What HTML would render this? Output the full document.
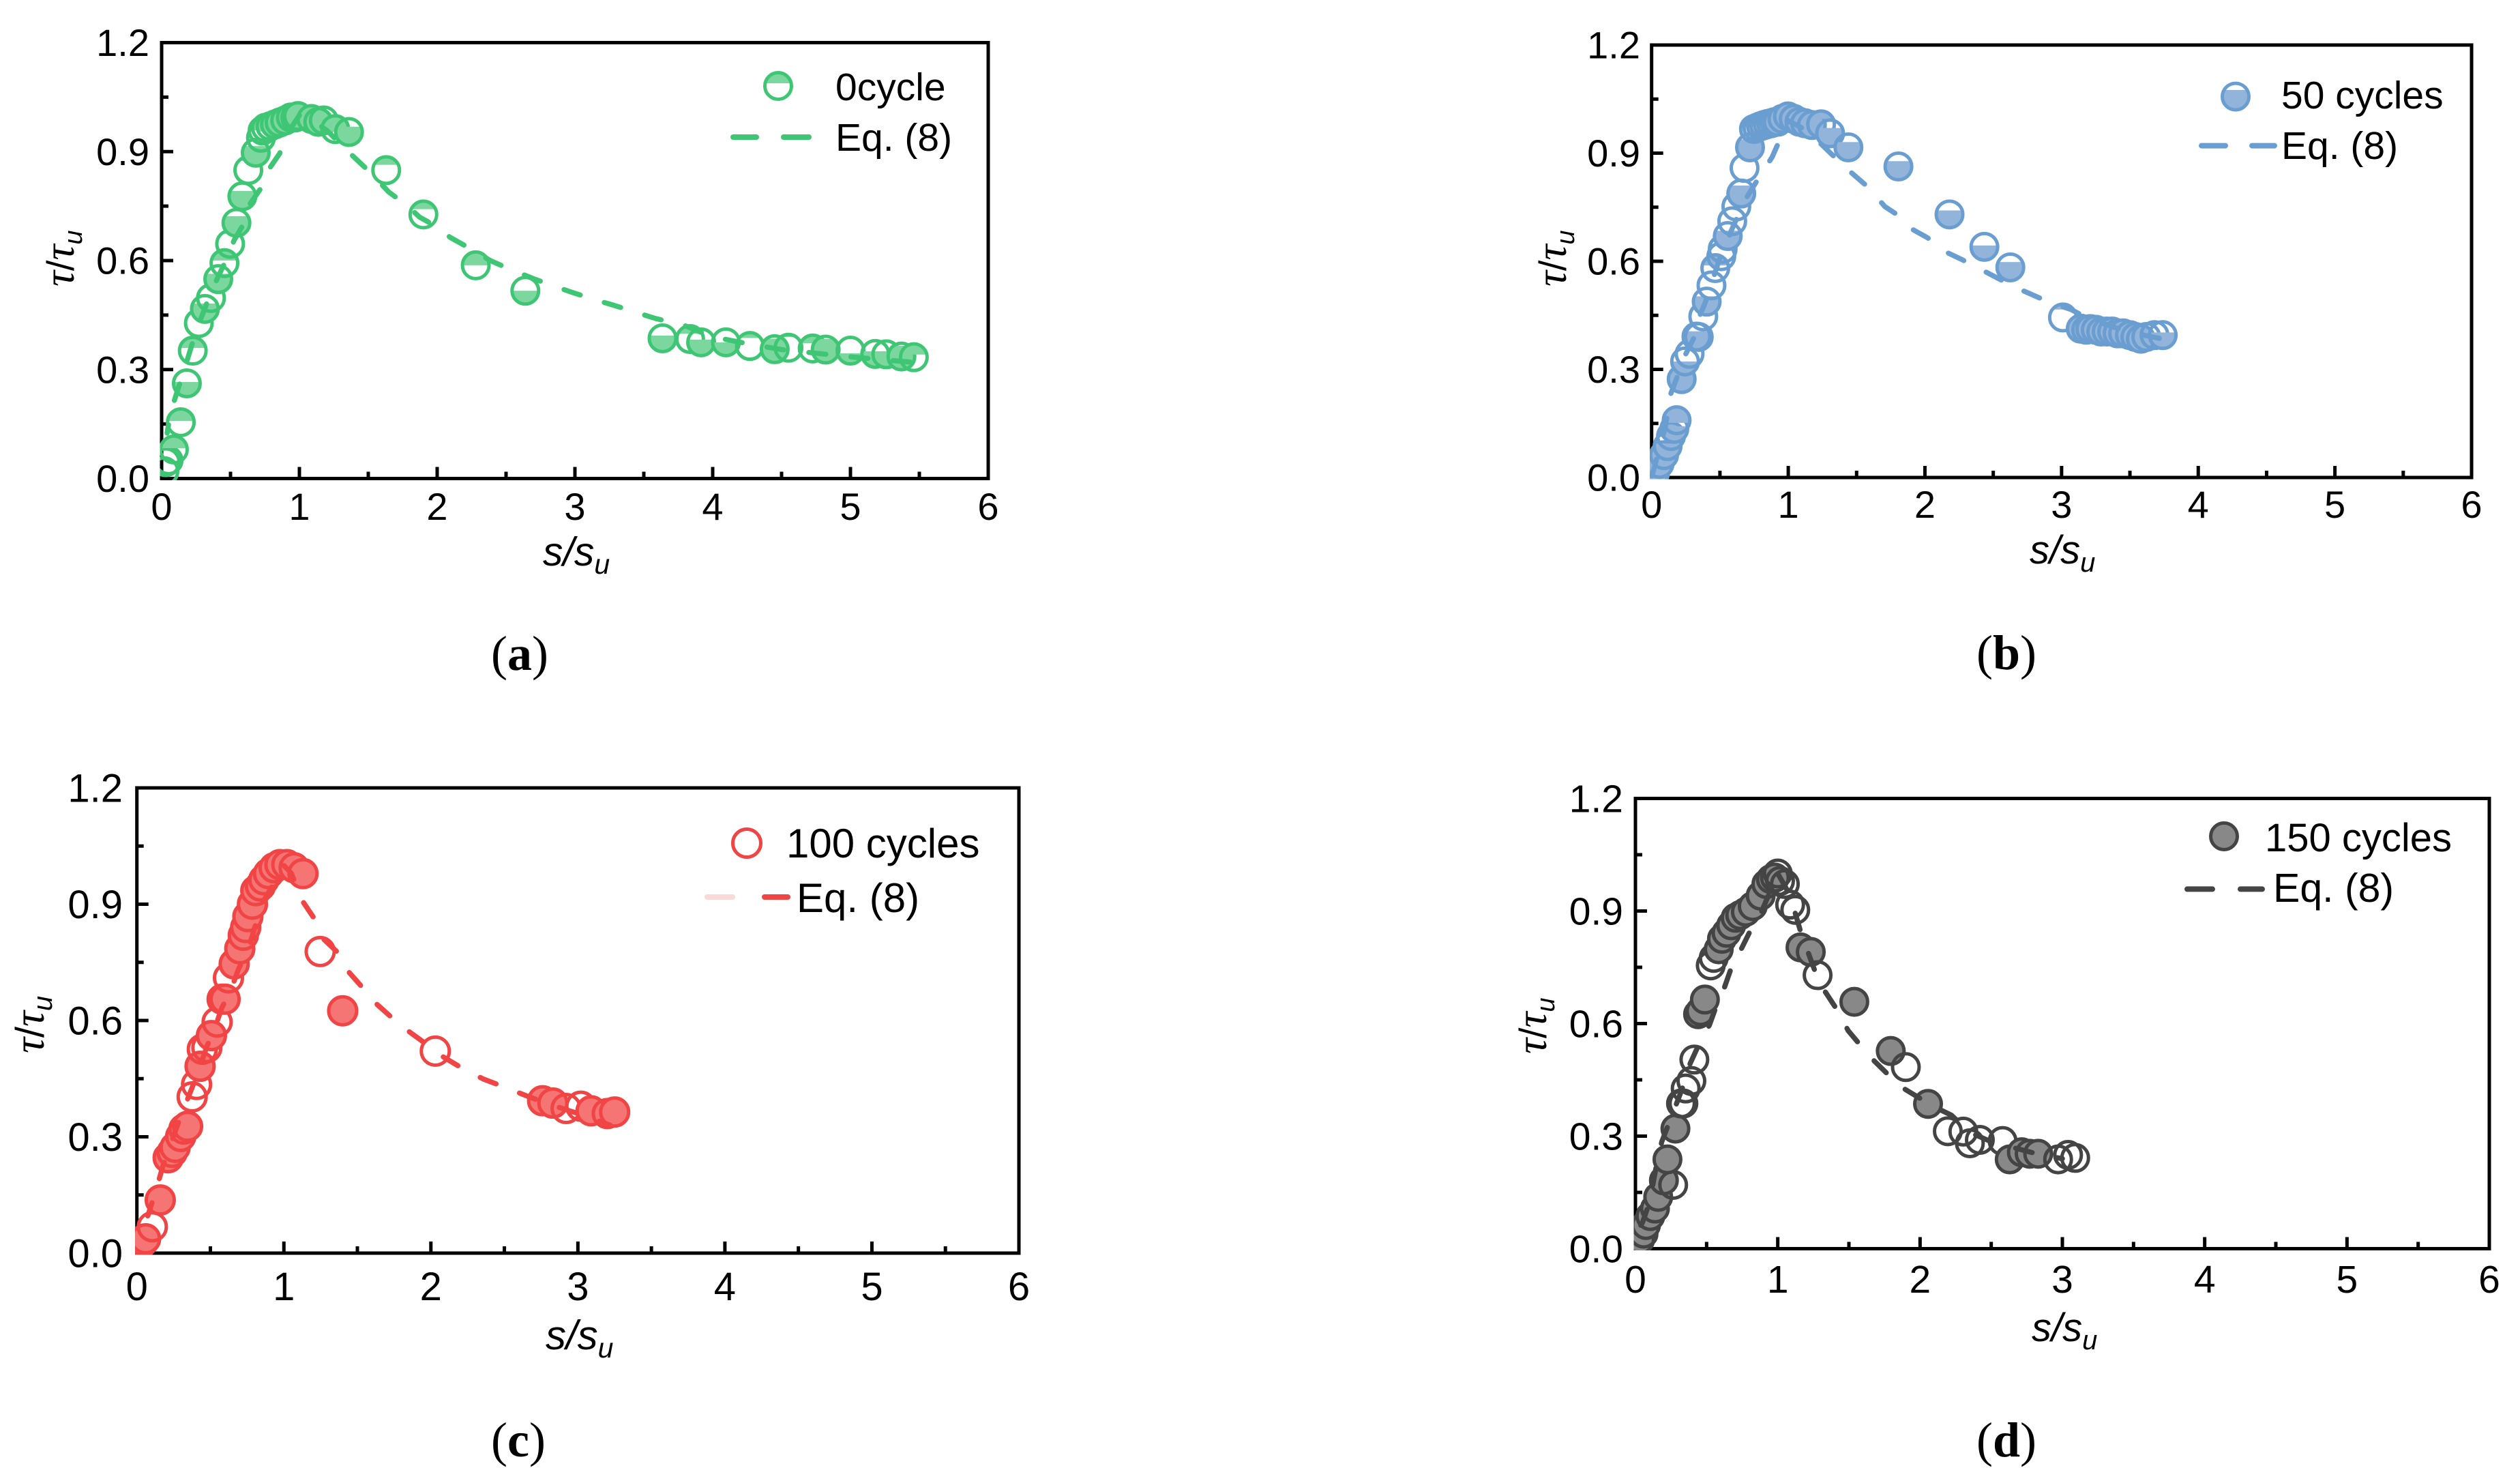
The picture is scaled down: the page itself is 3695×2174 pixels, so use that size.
<!DOCTYPE html>
<html lang="en">
<head>
<meta charset="utf-8">
<title>Normalised bond stress-slip curves</title>
<style>
html,body{margin:0;padding:0;background:#fff;}
svg{display:block;}
text{font-family:"Liberation Sans",sans-serif;fill:#000;}
.cap{font-family:"Liberation Serif",serif;font-size:72px;}
.cap .b{font-weight:bold;}
.ser{font-family:"Liberation Serif",serif;font-style:italic;font-size:64px;}
.ita{font-style:italic;}
</style>
</head>
<body>
<svg id="figure" xmlns="http://www.w3.org/2000/svg" width="3695" height="2174" viewBox="0 0 3695 2174">
  <rect width="3695" height="2174" fill="#fff"/>

  <g id="panel-a"></g>
  <g id="panel-b"></g>
  <g id="panel-c"></g>
  <g id="panel-d"></g>

  <!-- Panel a text -->
  <text x="1225" y="147" font-size="57">0cycle</text>
  <text x="1225" y="221" font-size="57">Eq. (8)</text>
  <text x="796" y="829" font-size="59" class="ita">s/s<tspan font-size="41" dy="12">u</tspan></text>
  <text transform="translate(108,420) rotate(-90)" font-size="56"><tspan class="ser">τ</tspan><tspan>/</tspan><tspan class="ser">τ</tspan><tspan class="ita" font-size="38" dy="12">u</tspan></text>
  <text class="cap" x="762" y="982" text-anchor="middle">(<tspan class="b">a</tspan>)</text>

  <!-- Panel b text -->
  <text x="3345" y="159" font-size="57">50 cycles</text>
  <text x="3345" y="233" font-size="57">Eq. (8)</text>
  <text x="2976" y="826" font-size="58" class="ita">s/s<tspan font-size="40" dy="12">u</tspan></text>
  <text transform="translate(2296,420) rotate(-90)" font-size="56"><tspan class="ser">τ</tspan><tspan>/</tspan><tspan class="ser">τ</tspan><tspan class="ita" font-size="38" dy="12">u</tspan></text>
  <text class="cap" x="2942" y="981" text-anchor="middle">(<tspan class="b">b</tspan>)</text>

  <!-- Panel c text -->
  <text x="1153" y="1257" font-size="60">100 cycles</text>
  <text x="1168" y="1337" font-size="60">Eq. (8)</text>
  <text x="800" y="1978" font-size="60" class="ita">s/s<tspan font-size="41" dy="12">u</tspan></text>
  <text transform="translate(64,1544) rotate(-90)" font-size="58"><tspan class="ser">τ</tspan><tspan>/</tspan><tspan class="ser">τ</tspan><tspan class="ita" font-size="40" dy="12">u</tspan></text>
  <text class="cap" x="760" y="2135" text-anchor="middle">(<tspan class="b">c</tspan>)</text>

  <!-- Panel d text -->
  <text x="3321" y="1248" font-size="58">150 cycles</text>
  <text x="3333" y="1322" font-size="59">Eq. (8)</text>
  <text x="2979" y="1966" font-size="58" class="ita">s/s<tspan font-size="40" dy="12">u</tspan></text>
  <text transform="translate(2267,1545) rotate(-90)" font-size="56"><tspan class="ser">τ</tspan><tspan>/</tspan><tspan class="ser">τ</tspan><tspan class="ita" font-size="38" dy="12">u</tspan></text>
  <text class="cap" x="2942" y="2135" text-anchor="middle">(<tspan class="b">d</tspan>)</text>
</svg>

<script>
// Shared axis values
const xMajorTicks = [0, 1, 2, 3, 4, 5, 6];
const xMinorTicks = [0.5, 1.5, 2.5, 3.5, 4.5, 5.5];
const yMajorTicks = [0, 0.3, 0.6, 0.9, 1.2];
const yMinorTicks = [0.15, 0.45, 0.75, 1.05];
const xTickLabels = ['0', '1', '2', '3', '4', '5', '6'];
const yTickLabels = ['0.0', '0.3', '0.6', '0.9', '1.2'];

// Panel a: 0 cycle
const aSlip = [0.02,0.03,0.05,0.089,0.139,0.183,0.226,0.27,0.314,0.358,0.411,0.456,0.497,0.543,0.586,0.629,0.683,0.721,0.733,0.757,0.79,0.823,0.856,0.897,0.938,0.97,0.99,1.087,1.137,1.177,1.26,1.36,1.63,1.90,2.28,2.64,3.636,3.836,3.916,4.096,4.27,4.45,4.55,4.726,4.82,5.0,5.18,5.26,5.37,5.46];
const aStress = [0.02,0.045,0.05,0.08,0.155,0.262,0.352,0.428,0.467,0.497,0.549,0.593,0.646,0.704,0.777,0.849,0.897,0.938,0.958,0.966,0.97,0.975,0.98,0.986,0.994,0.994,0.998,0.99,0.982,0.986,0.962,0.954,0.849,0.727,0.587,0.517,0.386,0.384,0.375,0.375,0.365,0.356,0.36,0.358,0.355,0.352,0.343,0.342,0.336,0.334];
const aShade = [0,0,0,0.45,0.45,-0.55,0.4,0.12,-0.7,0.12,-0.7,0.4,0.12,-0.75,-0.7,0.15,-0.75,0.2,0.2,0.6,0.7,1,1,1,1,1,1,0.4,1,0,0.6,-0.7,0.3,0.3,0.5,-0.5,-0.6,0.3,-0.6,-0.5,0.2,-0.9,0.1,0.3,-0.9,-0.4,-0.6,-0.4,-0.9,0.4];
const aCurveSlip = [0.04,0.064,0.114,0.163,0.205,0.25,0.304,0.353,0.414,0.477,0.526,0.6,0.634,0.724,0.774,0.857,0.93,1.0,1.1,1.2,1.385,1.508,1.648,1.78,1.871,2.003,2.094,2.226,2.386,2.505,2.70,2.96,3.12,3.29,3.43,3.59,3.77,4.0,4.27,4.5,5.0,5.45];
const aCurveStress = [0.125,0.181,0.241,0.298,0.35,0.406,0.459,0.507,0.559,0.608,0.656,0.704,0.752,0.801,0.849,0.895,0.96,1.0,0.985,0.958,0.889,0.845,0.789,0.752,0.72,0.692,0.664,0.636,0.60,0.58,0.55,0.515,0.495,0.476,0.459,0.44,0.425,0.39,0.37,0.355,0.335,0.32];

// Panel b: 50 cycles
const bSlip = [0.01,0.025,0.058,0.091,0.117,0.142,0.166,0.183,0.22,0.245,0.278,0.328,0.345,0.378,0.403,0.438,0.466,0.51,0.52,0.557,0.59,0.62,0.656,0.68,0.72,0.749,0.774,0.8,0.824,0.849,0.874,0.898,0.923,0.957,0.998,1.04,1.082,1.123,1.173,1.24,1.306,1.44,1.806,2.18,2.435,2.625,3.01,3.14,3.18,3.21,3.25,3.29,3.33,3.37,3.41,3.45,3.5,3.54,3.58,3.62,3.68,3.74];
const bStress = [0.005,0.013,0.038,0.062,0.087,0.115,0.135,0.159,0.273,0.322,0.343,0.391,0.39,0.447,0.488,0.533,0.581,0.614,0.634,0.67,0.711,0.752,0.788,0.859,0.916,0.967,0.971,0.975,0.978,0.981,0.983,0.986,0.987,0.995,1.002,0.995,0.987,0.983,0.978,0.98,0.955,0.916,0.863,0.73,0.64,0.583,0.444,0.413,0.41,0.412,0.41,0.405,0.405,0.405,0.4,0.4,0.395,0.39,0.385,0.39,0.395,0.395];
const bShade = [1,1,-0.7,-0.7,-0.6,0.2,-0.6,0.6,-0.8,-0.5,0,-0.7,0,0.2,-0.7,0,0.4,0.1,0,-0.7,0,0.2,-0.8,0.08,-0.8,0.3,0.3,0.4,0.5,0.5,0.6,0.7,1,1,1,1,1,1,1,0.3,-0.7,-0.7,-0.7,-0.65,-0.55,-0.7,0.2,1,1,1,1,1,1,1,1,1,1,1,1,0,0,-0.6];
const bCurveSlip = [0,0.05,0.1,0.141,0.19,0.25,0.308,0.35,0.391,0.5,0.6,0.7,0.8,0.882,1.0,1.1,1.2,1.35,1.464,1.589,1.706,1.83,1.897,2.02,2.13,2.264,2.66,2.9,3.07,3.2,3.4,3.6,3.73];
const bCurveStress = [0,0.07,0.14,0.233,0.282,0.343,0.386,0.447,0.484,0.61,0.70,0.78,0.841,0.889,0.99,0.97,0.94,0.885,0.845,0.804,0.752,0.721,0.691,0.665,0.63,0.606,0.528,0.488,0.466,0.44,0.415,0.395,0.385];

// Panel c: 100 cycles
const cSlip = [0.02,0.043,0.059,0.105,0.159,0.213,0.24,0.26,0.298,0.32,0.345,0.376,0.406,0.43,0.445,0.476,0.507,0.546,0.58,0.6,0.623,0.662,0.7,0.724,0.74,0.755,0.786,0.809,0.84,0.864,0.895,0.934,0.973,1.02,1.07,1.13,1.247,1.4,2.03,2.76,2.83,2.92,3.02,3.09,3.2,3.25];
const cStress = [0.02,0.03,0.037,0.068,0.137,0.246,0.26,0.273,0.301,0.32,0.327,0.403,0.435,0.482,0.526,0.53,0.561,0.596,0.655,0.655,0.71,0.746,0.785,0.82,0.84,0.868,0.9,0.935,0.947,0.963,0.979,0.994,1.002,1.002,0.994,0.979,0.778,0.625,0.521,0.393,0.387,0.373,0.379,0.367,0.36,0.364];
const cShade = [1,1,1,0,1,1,1,1,1,0,1,0,0,1,0,0,1,0,1,1,0,1,1,1,1,1,1,1,0.7,1,1,1,1,1,1,1,0,1,0,1,1,0,0,1,0,1];
const cCurveSlip = [0.074,0.128,0.175,0.205,0.275,0.314,0.376,0.43,0.476,0.53,0.577,0.639,0.693,0.755,0.85,1.0,1.05,1.134,1.226,1.273,1.373,1.43,1.53,1.606,1.75,1.86,1.977,2.085,2.225,2.357,2.51,2.655,2.79,3.0,3.22];
const cCurveStress = [0.096,0.159,0.222,0.254,0.329,0.368,0.427,0.482,0.533,0.58,0.632,0.679,0.734,0.781,0.90,1.0,0.98,0.904,0.852,0.809,0.773,0.73,0.687,0.651,0.602,0.569,0.537,0.506,0.474,0.449,0.427,0.405,0.386,0.36,0.33];

// Panel d: 150 cycles
const dSlip = [0.033,0.057,0.074,0.105,0.137,0.16,0.2,0.265,0.225,0.281,0.32,0.337,0.353,0.393,0.414,0.44,0.457,0.488,0.529,0.55,0.585,0.608,0.64,0.673,0.704,0.736,0.776,0.824,0.88,0.92,0.952,0.98,1.0,1.016,1.05,1.087,1.123,1.16,1.232,1.28,1.538,1.794,1.9,2.056,2.195,2.304,2.35,2.42,2.58,2.63,2.715,2.77,2.83,2.97,3.04,3.09];
const dStress = [0.024,0.04,0.063,0.087,0.107,0.138,0.182,0.17,0.238,0.32,0.387,0.387,0.427,0.447,0.504,0.625,0.633,0.664,0.755,0.775,0.798,0.826,0.842,0.862,0.882,0.889,0.898,0.913,0.941,0.972,0.985,0.989,1.0,0.98,0.972,0.917,0.903,0.803,0.791,0.729,0.658,0.527,0.484,0.386,0.313,0.312,0.281,0.29,0.287,0.238,0.257,0.253,0.253,0.238,0.25,0.242];
const dShade = [1,0,1,1,1,1,1,0,1,1,0,0,0,0,0,1,1,1,0,0,1,1,1,1,1,1,1,1,1,1,0,1,0,0,0,0,0,1,1,0,1,1,0,1,0,0,0,0,0,1,1,1,1,0,0,0];
const dCurveSlip = [0,0.05,0.1,0.153,0.185,0.241,0.289,0.345,0.385,0.449,0.521,0.577,0.625,0.672,0.744,0.8,0.88,1.0,1.06,1.12,1.16,1.216,1.27,1.335,1.423,1.495,1.59,1.663,1.8,1.885,2.02,2.11,2.22,2.35,2.5,2.7,2.85,3.0];
const dCurveStress = [0.04,0.07,0.125,0.233,0.285,0.34,0.387,0.443,0.494,0.547,0.597,0.656,0.696,0.747,0.799,0.842,0.893,1.0,0.96,0.898,0.846,0.787,0.731,0.684,0.633,0.581,0.538,0.506,0.455,0.427,0.396,0.376,0.356,0.31,0.285,0.265,0.25,0.24];

const SVG_NS = 'http://www.w3.org/2000/svg';
const DASH_ON = 25;
const DASH_OFF = 37;

function make(parent, tag, attrs) {
  const el = document.createElementNS(SVG_NS, tag);
  for (const k in attrs) el.setAttribute(k, attrs[k]);
  parent.appendChild(el);
  return el;
}

function shadePath(cx, cy, r, f) {
  const g = Math.abs(f);
  const yc = f > 0 ? cy - r + 2 * r * g : cy + r - 2 * r * g;
  const w = Math.sqrt(Math.max(0, r * r - (yc - cy) * (yc - cy)));
  const large = g > 0.5 ? 1 : 0;
  return f > 0
    ? `M${cx - w},${yc}A${r},${r} 0 ${large} 1 ${cx + w},${yc}Z`
    : `M${cx + w},${yc}A${r},${r} 0 ${large} 1 ${cx - w},${yc}Z`;
}

function drawMarker(parent, cx, cy, r, shade, p) {
  const g = make(parent, 'g', {});
  
  
  if (Math.abs(shade) >= 1) {
    make(g, 'circle', {cx: cx, cy: cy, r: r, fill: p.fill});
  } else if (shade !== 0) {
    make(g, 'path', {d: shadePath(cx, cy, r, shade), fill: p.fill});
  }
  make(g, 'circle', {cx: cx, cy: cy, r: r, fill: 'none', stroke: p.color, 'stroke-width': 5});
}

function drawPanel(p) {
  const root = document.getElementById('panel-' + p.id);
  const sx = v => p.left + (v / 6) * (p.right - p.left);
  const sy = v => p.bottom - (v / 1.2) * (p.bottom - p.top);

  const frame = make(root, 'rect', {x: p.left, y: p.top, width: p.right - p.left, height: p.bottom - p.top, fill: 'none', stroke: '#000', 'stroke-width': 5});
  
  

  const xAxis = make(root, 'g', {});
  
  
  const yAxis = make(root, 'g', {});
  
  

  xMajorTicks.forEach((v, i) => {
    const t = make(xAxis, 'line', {x1: sx(v), x2: sx(v), y1: p.bottom, y2: p.bottom - 17, stroke: '#000', 'stroke-width': 5});
    
    
    const l = make(xAxis, 'text', {x: sx(v), y: p.xLabelY, 'font-size': p.tickSize, 'text-anchor': 'middle'});
    
    
    l.textContent = xTickLabels[i];
  });
  xMinorTicks.forEach(v => {
    const t = make(xAxis, 'line', {x1: sx(v), x2: sx(v), y1: p.bottom, y2: p.bottom - 10, stroke: '#000', 'stroke-width': 5});
    
    
  });
  yMajorTicks.forEach((v, i) => {
    const t = make(yAxis, 'line', {x1: p.left, x2: p.left + 17, y1: sy(v), y2: sy(v), stroke: '#000', 'stroke-width': 5});
    
    
    const l = make(yAxis, 'text', {x: p.yLabelX, y: sy(v) + p.tickSize * 0.35, 'font-size': p.tickSize, 'text-anchor': 'end'});
    
    
    l.textContent = yTickLabels[i];
  });
  yMinorTicks.forEach(v => {
    const t = make(yAxis, 'line', {x1: p.left, x2: p.left + 10, y1: sy(v), y2: sy(v), stroke: '#000', 'stroke-width': 5});
    
    
  });

  const clipId = 'clip-' + p.id;
  const clip = make(root, 'clipPath', {id: clipId});
  make(clip, 'rect', {x: p.left - 2.5, y: p.top - 2.5, width: p.right - p.left + 5, height: p.bottom - p.top + 5});

  const plot = make(root, 'g', {'clip-path': `url(#${clipId})`});
  
  
  p.xs.forEach((x, i) => {
    drawMarker(plot, sx(x), sy(p.ys[i]), p.r, p.shade[i] || 0, p);
  });

  // Phase the dash pattern so that a dash begins at the panel's anchor slip.
  let along = 0;
  let anchorLen = 0;
  p.curveX.forEach((x, i) => {
    if (i > 0) {
      along += Math.hypot(sx(x) - sx(p.curveX[i - 1]), sy(p.curveY[i]) - sy(p.curveY[i - 1]));
    }
    if (x <= p.dashAnchor) anchorLen = along;
  });
  const period = DASH_ON + DASH_OFF;
  const offset = period - (anchorLen % period);

  const pts = p.curveX.map((x, i) => sx(x) + ',' + sy(p.curveY[i])).join(' ');
  const curve = make(plot, 'polyline', {
    points: pts, fill: 'none', stroke: p.color, 'stroke-width': 7.5,
    'stroke-linecap': 'round', 'stroke-linejoin': 'round',
    'stroke-dasharray': DASH_ON + ' ' + DASH_OFF, 'stroke-dashoffset': offset
  });
  
  

  const legend = make(root, 'g', {});
  
  
  drawMarker(legend, p.legend.mx, p.legend.my, p.r, p.legend.shade, p);
  p.legend.dashes.forEach((d, i) => {
    const ln = make(legend, 'line', {x1: d[0], x2: d[1], y1: p.legend.dy, y2: p.legend.dy, stroke: (p.legend.paleFirst && i === 0) ? '#f9d9d9' : p.color, 'stroke-width': 8, 'stroke-linecap': 'round'});
    
    
  });
}

drawPanel({id: 'a', left: 237, right: 1449, top: 62.5, bottom: 701.5,
  xs: aSlip, ys: aStress, shade: aShade, curveX: aCurveSlip, curveY: aCurveStress,
  color: '#3fc674', fill: '#7bd79e', r: 19.5, tickSize: 56, xLabelY: 762, yLabelX: 219, dashAnchor: 1.385,
  legend: {mx: 1141, my: 126, shade: 0.4, dy: 201, dashes: [[1075, 1109], [1149, 1186]]}});

drawPanel({id: 'b', left: 2421.7, right: 3624, top: 66, bottom: 700,
  xs: bSlip, ys: bStress, shade: bShade, curveX: bCurveSlip, curveY: bCurveStress,
  color: '#6a9dd0', fill: '#92b4da', r: 19.5, tickSize: 56, xLabelY: 759, yLabelX: 2405, dashAnchor: 1.464,
  legend: {mx: 3278, my: 141.6, shade: -0.75, dy: 213.6, dashes: [[3228, 3263], [3302, 3335]]}});

drawPanel({id: 'c', left: 200.7, right: 1494, top: 1155, bottom: 1837,
  xs: cSlip, ys: cStress, shade: cShade, curveX: cCurveSlip, curveY: cCurveStress,
  color: '#f14444', fill: '#f57575', r: 20.5, tickSize: 58, xLabelY: 1906, yLabelX: 180, dashAnchor: 1.134,
  legend: {mx: 1095, my: 1236, shade: -0.06, dy: 1315, paleFirst: true, dashes: [[1037, 1074], [1121, 1155]]}});

drawPanel({id: 'd', left: 2398, right: 3650, top: 1170.5, bottom: 1830.5,
  xs: dSlip, ys: dStress, shade: dShade, curveX: dCurveSlip, curveY: dCurveStress,
  color: '#444444', fill: '#888888', r: 19.5, tickSize: 57, xLabelY: 1895, yLabelX: 2380, dashAnchor: 1.335,
  legend: {mx: 3261, my: 1226, shade: 1, dy: 1303.4, dashes: [[3207, 3244], [3285, 3317]]}});
</script>
</body>
</html>
